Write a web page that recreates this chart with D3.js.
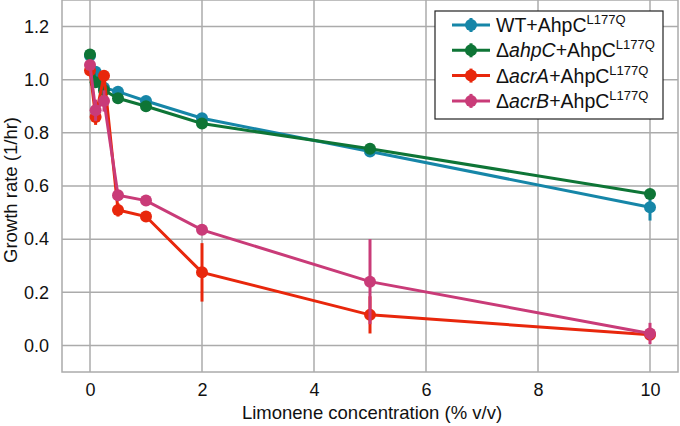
<!DOCTYPE html>
<html>
<head>
<meta charset="utf-8">
<script src="https://cdn.jsdelivr.net/npm/d3@7"></script>
<style>
  body { margin: 0; background: #fff; }
  text { font-family: "Liberation Sans", Arial, sans-serif; }
</style>
</head>
<body>
<div id="chart"></div>
<script>
// Limonene concentrations (% v/v)
const concentrations = [0, 0.1, 0.25, 0.5, 1, 2, 5, 10];

const seriesNames = ["WT", "ahpC", "acrA", "acrB"];
const seriesColors = ["#1686a8", "#0e7536", "#e8270c", "#c93b78"];

// growth rates (1/hr) per strain
const wtRate   = [1.09, 1.03, 0.97, 0.955, 0.92, 0.855, 0.73, 0.52];
const ahpCRate = [1.095, 0.99, 0.96, 0.93, 0.90, 0.835, 0.74, 0.57];
const acrARate = [1.035, 0.86, 1.015, 0.51, 0.485, 0.275, 0.115, 0.04];
const acrBRate = [1.055, 0.885, 0.92, 0.565, 0.545, 0.435, 0.24, 0.045];

// error bar half-widths
const wtErr   = [0.02, 0.02, 0.01, 0.01, 0.01, 0.01, 0.015, 0.05];
const ahpCErr = [0.02, 0.02, 0.01, 0.01, 0.01, 0.01, 0.02, 0.01];
const acrAErr = [0.015, 0.03, 0.015, 0.025, 0.01, 0.11, 0.07, 0.01];
const acrBErr = [0.015, 0.04, 0.04, 0.01, 0.01, 0.01, 0.16, 0.04];

const xTicks = [0, 2, 4, 6, 8, 10];
const yTicks = [0.0, 0.2, 0.4, 0.6, 0.8, 1.0, 1.2];

const rates = [wtRate, ahpCRate, acrARate, acrBRate];
const errs = [wtErr, ahpCErr, acrAErr, acrBErr];

const width = 680, height = 426;
const margin = { top: 0, right: 2, bottom: 54, left: 62 };

const svg = d3.select("#chart").append("svg")
  .attr("width", width)
  .attr("height", height);

const x = d3.scaleLinear().domain([-0.5, 10.5]).range([margin.left, width - margin.right]);
const y = d3.scaleLinear().domain([-0.1, 1.3]).range([height - margin.bottom, margin.top]);

// grid
const grid = svg.append("g").attr("stroke", "#ababab").attr("stroke-width", 1.5);
grid.selectAll(".gx").data(xTicks).join("line")
  .attr("x1", d => x(d)).attr("x2", d => x(d))
  .attr("y1", y.range()[0]).attr("y2", y.range()[1]);
grid.selectAll(".gy").data(yTicks).join("line")
  .attr("y1", d => y(d)).attr("y2", d => y(d))
  .attr("x1", x.range()[0]).attr("x2", x.range()[1]);

// frame
svg.append("rect")
  .attr("x", x.range()[0]).attr("y", y.range()[1])
  .attr("width", x.range()[1] - x.range()[0])
  .attr("height", y.range()[0] - y.range()[1])
  .attr("fill", "none").attr("stroke", "#ababab").attr("stroke-width", 1.5);

// axes (labels only)
const xAxis = svg.append("g")
  .attr("transform", `translate(0,${y.range()[0]})`)
  .call(d3.axisBottom(x).tickValues(xTicks).tickSize(0).tickPadding(11).tickFormat(d3.format("d")));
const yAxis = svg.append("g")
  .attr("transform", `translate(${x.range()[0]},0)`)
  .call(d3.axisLeft(y).tickValues(yTicks).tickSize(0).tickPadding(13).tickFormat(d3.format(".1f")));
[xAxis, yAxis].forEach(a => {
  a.select(".domain").remove();
  a.selectAll("text").attr("font-size", 18).attr("fill", "#111")
    .attr("font-family", "'Liberation Sans', Arial, sans-serif");
});

svg.append("text")
  .attr("x", (x.range()[0] + x.range()[1]) / 2 + 2)
  .attr("y", 419)
  .attr("text-anchor", "middle")
  .attr("font-size", 18.5)
  .attr("fill", "#111")
  .text("Limonene concentration (% v/v)");

svg.append("text")
  .attr("transform", `translate(17,${(y.range()[0] + y.range()[1]) / 2 + 4}) rotate(-90)`)
  .attr("text-anchor", "middle")
  .attr("font-size", 18.5)
  .attr("fill", "#111")
  .text("Growth rate (1/hr)");

// series
const line = d3.line().x(d => x(d.c)).y(d => y(d.v));
rates.forEach((r, i) => {
  const pts = concentrations.map((c, j) => ({ c, v: r[j], e: errs[i][j] }));
  const g = svg.append("g");
  g.append("path").datum(pts)
    .attr("d", line)
    .attr("fill", "none")
    .attr("stroke", seriesColors[i])
    .attr("stroke-width", 3);
  g.selectAll("line").data(pts).join("line")
    .attr("x1", d => x(d.c)).attr("x2", d => x(d.c))
    .attr("y1", d => y(d.v - d.e)).attr("y2", d => y(d.v + d.e))
    .attr("stroke", seriesColors[i]).attr("stroke-width", 3);
  g.selectAll("circle").data(pts).join("circle")
    .attr("cx", d => x(d.c)).attr("cy", d => y(d.v))
    .attr("r", 6)
    .attr("fill", seriesColors[i]);
});

// legend
const legend = svg.append("g");
legend.append("rect")
  .attr("x", 435).attr("y", 11).attr("width", 228).attr("height", 108)
  .attr("fill", "#fff").attr("stroke", "#222").attr("stroke-width", 1.2);

const labelParts = [
  [["WT", false]],
  [["Δ", false], ["ahpC", true]],
  [["Δ", false], ["acrA", true]],
  [["Δ", false], ["acrB", true]]
];

seriesNames.forEach((n, i) => {
  const ly = 25 + i * 25.3;
  legend.append("line")
    .attr("x1", 452).attr("x2", 490).attr("y1", ly).attr("y2", ly)
    .attr("stroke", seriesColors[i]).attr("stroke-width", 3);
  legend.append("line")
    .attr("x1", 471).attr("x2", 471).attr("y1", ly - 7).attr("y2", ly + 7)
    .attr("stroke", seriesColors[i]).attr("stroke-width", 3);
  legend.append("circle")
    .attr("cx", 471).attr("cy", ly).attr("r", 6).attr("fill", seriesColors[i]);
  const t = legend.append("text")
    .attr("x", 496).attr("y", ly + 7)
    .attr("font-size", 19.5).attr("fill", "#111");
  labelParts[i].forEach(([s, it]) => {
    t.append("tspan").attr("font-style", it ? "italic" : "normal").text(s);
  });
  t.append("tspan").text("+AhpC");
  t.append("tspan").attr("font-size", 13).attr("dy", -8).text("L177Q");
});
</script>
</body>
</html>
